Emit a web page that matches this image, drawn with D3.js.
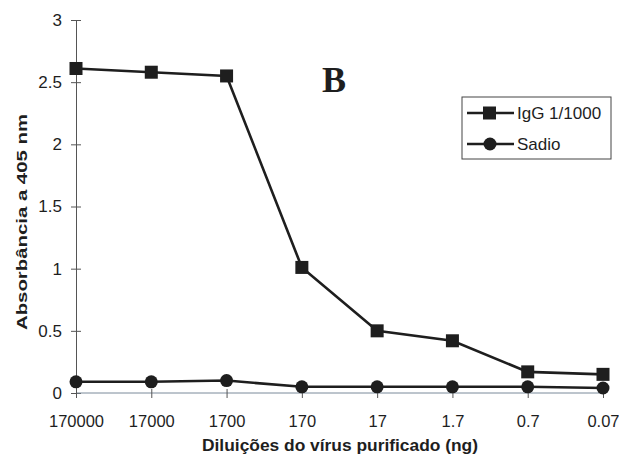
<!DOCTYPE html>
<html><head><meta charset="utf-8">
<script src="https://cdn.jsdelivr.net/npm/d3@7"></script>
<style>body{margin:0;background:#fff}svg{display:block}</style>
</head><body>
<svg id="c" width="619" height="459"></svg>
<script>
const categories = ["170000","17000","1700","170","17","1.7","0.7","0.07"];
const igg = [2.61, 2.58, 2.55, 1.01, 0.50, 0.42, 0.17, 0.15];
const sadio = [0.09, 0.09, 0.10, 0.05, 0.05, 0.05, 0.05, 0.04];
const yTicks = [0, 0.5, 1, 1.5, 2, 2.5, 3];
const seriesNames = ["IgG 1/1000", "Sadio"];

const svg = d3.select("#c");
const ink = "#1e1e1e";
const font = "Liberation Sans, Arial, sans-serif";
const x = d3.scalePoint().domain(categories).range([76, 603]);
const y = d3.scaleLinear().domain([0, 3]).range([393, 20]);

// y axis
const ya = svg.append("g").attr("transform","translate(76,0)")
  .call(d3.axisLeft(y).tickValues(yTicks).tickFormat(d3.format("")).tickSizeInner(5).tickSizeOuter(0).tickPadding(9));
ya.select(".domain").attr("stroke", "#555").attr("stroke-width",1);
ya.selectAll(".tick line").attr("stroke","#555").attr("x2",5).attr("x1",-5);
ya.selectAll("text").attr("font-family",font).attr("font-size",17).attr("fill",ink);

// x axis
const xa = svg.append("g").attr("transform","translate(0,393)")
  .call(d3.axisBottom(x).tickSizeInner(5).tickSizeOuter(0).tickPadding(17));
xa.select(".domain").attr("stroke","#7a8a9a").attr("stroke-width",1).attr("d","M76,0H605");
xa.selectAll(".tick line").attr("stroke","#555").attr("y1",-4).attr("y2",5);
xa.selectAll("text").attr("font-family",font).attr("font-size",16.5).attr("fill",ink);

// axis titles
svg.append("text").attr("transform","translate(27,222) rotate(-90)").attr("text-anchor","middle")
  .attr("font-family",font).attr("font-weight","bold").attr("font-size",14.5).attr("fill",ink)
  .attr("textLength",216).attr("lengthAdjust","spacingAndGlyphs")
  .text("Absorbância a 405 nm");
svg.append("text").attr("x",340).attr("y",451).attr("text-anchor","middle")
  .attr("font-family",font).attr("font-weight","bold").attr("font-size",16).attr("fill",ink)
  .attr("textLength",276).attr("lengthAdjust","spacingAndGlyphs")
  .text("Diluições do vírus purificado (ng)");

// "B" label
svg.append("text").attr("x",322).attr("y",92).attr("font-family","Liberation Serif, Times New Roman, serif")
  .attr("font-weight","bold").attr("font-size",36).attr("fill",ink).text("B");

const line = d3.line().x((d,i)=>x(categories[i])).y(d=>y(d));
svg.append("path").datum(igg).attr("d",line).attr("fill","none").attr("stroke",ink).attr("stroke-width",2.6);
svg.append("path").datum(sadio).attr("d",line).attr("fill","none").attr("stroke",ink).attr("stroke-width",2.6);

svg.selectAll(".sq").data(igg).join("rect")
  .attr("x",(d,i)=>x(categories[i])-6.5).attr("y",d=>y(d)-6.5).attr("width",13).attr("height",13).attr("fill",ink);
svg.selectAll(".ci").data(sadio).join("circle")
  .attr("cx",(d,i)=>x(categories[i])).attr("cy",d=>y(d)).attr("r",6.5).attr("fill",ink);

// legend
const lg = svg.append("g");
lg.append("rect").attr("x",462).attr("y",97).attr("width",149).attr("height",62).attr("fill","#fff").attr("stroke","#444").attr("stroke-width",1);
seriesNames.forEach((n,i)=>{
  const yy = 113 + i*31;
  lg.append("line").attr("x1",467).attr("x2",514).attr("y1",yy).attr("y2",yy).attr("stroke",ink).attr("stroke-width",2.6);
  if(i===0) lg.append("rect").attr("x",483).attr("y",yy-6.5).attr("width",13).attr("height",13).attr("fill",ink);
  else lg.append("circle").attr("cx",490).attr("cy",yy).attr("r",6.5).attr("fill",ink);
  lg.append("text").attr("x",517).attr("y",yy+6).attr("font-family",font)
    .attr("font-size",17).attr("fill",ink).text(n);
});
</script>
</body></html>
